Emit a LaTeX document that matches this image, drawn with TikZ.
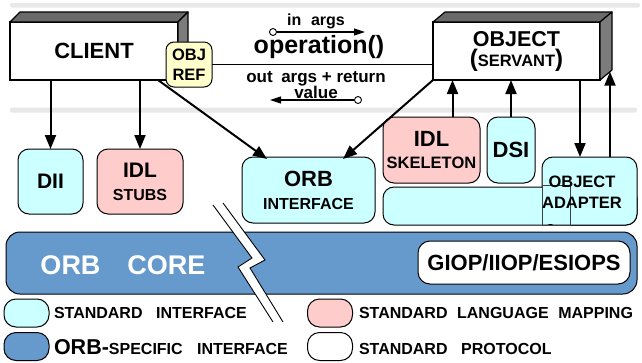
\documentclass[tikz,border=0pt]{standalone}
\usepackage{fontspec}
\setmainfont{Liberation Sans}
\usetikzlibrary{arrows.meta}
\definecolor{cyanfill}{HTML}{CCFFFF}
\definecolor{pinkfill}{HTML}{FFCCCC}
\definecolor{yellowfill}{HTML}{FFFFCC}
\definecolor{corefill}{HTML}{6699CC}
\definecolor{bandgray}{HTML}{E8E8E8}
\definecolor{topgray}{HTML}{6A6A6A}
\definecolor{sidegray}{HTML}{7C7C7C}
\newcommand{\fsz}[2]{\fontsize{#1}{#2}\selectfont}
\begin{document}
\begin{tikzpicture}[x=1pt,y=-1pt,
  box/.style={draw=black, line width=1pt, rounded corners=11pt, inner sep=0pt, outer sep=0pt, align=center, font=\bfseries},
  cube/.style={draw=black, line width=1.2pt, fill=white, inner sep=0pt, outer sep=0pt, align=center},
  conn/.style={line width=2pt, -{Triangle[length=14pt,width=11pt]}},
  sig/.style={line width=1.1pt, -{Triangle[length=11pt,width=7pt]}},
  swatch/.style={draw=black, line width=1pt, rounded corners=12pt, minimum width=45pt, minimum height=28pt, inner sep=0pt, outer sep=0pt},
  txt/.style={inner sep=0pt, outer sep=0pt, font=\bfseries},
  dot/.style={circle, draw=black, fill=white, line width=0.9pt, minimum size=7pt, inner sep=0pt}
]
\fill[white] (0,0) rectangle (642,362);
\useasboundingbox (0,0) rectangle (642,362);

% separator bands
\fill[bandgray, rounded corners=2pt] (10,3) rectangle (640,7.5);
\fill[bandgray, rounded corners=2pt] (10,107.5) rectangle (637,112.5);

% CLIENT
\node[cube, minimum width=168pt, minimum height=58pt, font=\bfseries\fsz{22}{24}] (client) at (94,51) {CLIENT};
\filldraw[fill=topgray, line width=1.2pt, line join=round] (client.north west) -- ++(10,-10) -- ++(168,0) -- (client.north east) -- cycle;
\filldraw[fill=sidegray, line width=1.2pt, line join=round] (client.north east) -- ++(10,-10) -- ++(0,58) -- (client.south east) -- cycle;

% OBJECT
\node[cube, minimum width=167pt, minimum height=58pt, font=\bfseries\fsz{21.5}{20}] (object) at (516.5,51) {OBJECT\\{\fsz{24}{20}(}{\fsz{16.5}{20}SERVANT}{\fsz{24}{20})}};
\filldraw[fill=topgray, line width=1.2pt, line join=round] (object.north west) -- ++(12,-10) -- ++(167,0) -- (object.north east) -- cycle;
\filldraw[fill=sidegray, line width=1.2pt, line join=round] (object.north east) -- ++(12,-10) -- ++(0,58) -- (object.south east) -- cycle;
\coordinate (objface) at (610,71.7);

% OBJ REF and operation line
\node[box, fill=yellowfill, rounded corners=8pt, minimum width=46pt, minimum height=45pt, font=\bfseries\fsz{16.5}{20}] (objref) at (189,64.5) {OBJ\\REF};
\draw[line width=0.9pt] (objref.east) -- (object.west |- objref.east);

\node[txt, font=\bfseries\fsz{16}{18}, anchor=base] (inargs) at (316,25) {in\hspace{.6em}args};
\node[txt, font=\bfseries\fsz{25}{28}, anchor=base] (op) at (319,53) {operation()};
\node[txt, font=\bfseries\fsz{17}{18}, anchor=base] (outargs) at (316,82) {out\hspace{.5em}args + return};
\node[txt, font=\bfseries\fsz{17}{18}, anchor=base] (value) at (316,98) {value};
\node[dot] (inS) at (273,32) {};
\coordinate (inE) at (365,32);
\draw[sig] (inS) -- (inE);
\node[dot] (outS) at (358,100) {};
\coordinate (outE) at (270,100);
\draw[sig] (outS) -- (outE);

% client side boxes
\node[box, fill=cyanfill, minimum width=65pt, minimum height=65pt, font=\bfseries\fsz{21}{23}] (dii) at (50.5,181.5) {DII};
\node[box, fill=pinkfill, minimum width=86pt, minimum height=65pt, font=\bfseries\fsz{16}{23}] (stubs) at (140,181.5) {{\fsz{21}{23}IDL}\\STUBS};
\node[box, fill=cyanfill, minimum width=133pt, minimum height=66pt, font=\bfseries\fsz{16}{23}] (orbif) at (308.5,190) {{\fsz{22}{23}ORB}\\INTERFACE};

% server side boxes
\node[box, fill=pinkfill, minimum width=97pt, minimum height=66pt, font=\bfseries\fsz{16.5}{22}] (skel) at (431.5,150) {{\fsz{22}{22}IDL}\\SKELETON};
\node[box, fill=cyanfill, minimum width=48pt, minimum height=66pt, font=\bfseries\fsz{22}{24}] (dsi) at (511,150) {DSI};
\node[box, fill=cyanfill, minimum width=254pt, minimum height=38pt] (oabar) at (510,206) {};
\node[box, fill=cyanfill, minimum width=95pt, minimum height=68pt] (oa) at (589.5,191) {};
\fill[cyanfill] (541,188) rectangle (600,223.5);
\draw[line width=0.7pt, draw=black!75] (542,185) rectangle (570,225);
\node[txt, align=center, font=\bfseries\fsz{16.5}{21}] (oatext) at (582,192) {OBJECT\\ADAPTER};

% connectors
\draw[conn] (dii.north |- client.south) -- (dii.north);
\draw[conn] (stubs.north |- client.south) -- (stubs.north);
\draw[conn] ([xshift=-20pt]client.south east) -- ([xshift=25pt,yshift=-2pt]orbif.north west);
\draw[conn] (object.south west) -- ([xshift=-32pt,yshift=-2pt]orbif.north east);
\draw[conn] ([xshift=21pt]skel.north) -- ([xshift=21pt]skel.north |- object.south);
\draw[conn] (dsi.north) -- (dsi.north |- object.south);
\draw[conn] ([xshift=-9.5pt]oa.north |- object.south) -- ([xshift=-9.5pt]oa.north);
\draw[conn] ([xshift=20.5pt]oa.north) -- (objface);

% ORB core
\node[draw=black, line width=1pt, fill=corefill, rounded corners=14pt, minimum width=631pt, minimum height=62pt, inner sep=0pt, outer sep=0pt] (core) at (321.5,263) {};
\node[txt, text=white, font=\bfseries\fsz{27}{28}] (coretext) at (123,265) {ORB\hspace{1em}CORE};
\node[box, fill=white, rounded corners=12pt, minimum width=212pt, minimum height=43pt, font=\bfseries\fsz{22}{24}] (giop) at (524,262.5) {GIOP/IIOP/ESIOPS};

% break mark
\fill[white] (213,205) -- (252,258) -- (238,267) -- (273,322) -- (283,322) -- (250,268) -- (265,260) -- (223,203) -- cycle;
\draw[line width=0.9pt, line join=miter] (213,205) -- (252,258) -- (238,267) -- (273,322);
\draw[line width=0.9pt, line join=miter] (223,203) -- (265,260) -- (250,268) -- (283,322);

% legend
\node[swatch, fill=cyanfill] (lg1) at (26.5,313) {};
\node[txt, font=\bfseries\fsz{16}{18}, anchor=base west] (lg1t) at (54,318.5) {STANDARD\hspace{.85em}INTERFACE};
\node[swatch, fill=corefill] (lg2) at (26.5,346.5) {};
\node[txt, font=\bfseries\fsz{16}{18}, anchor=base west] (lg2t) at (54,354.5) {{\fsz{21.5}{22}ORB-}SPECIFIC\hspace{.9em}INTERFACE};
\node[swatch, fill=pinkfill] (lg3) at (330,313) {};
\node[txt, font=\bfseries\fsz{16}{18}, anchor=base west] (lg3t) at (359,318.5) {STANDARD\hspace{.6em}LANGUAGE\hspace{.6em}MAPPING};
\node[swatch, fill=white] (lg4) at (330,346.5) {};
\node[txt, font=\bfseries\fsz{16}{18}, anchor=base west] (lg4t) at (359,354.5) {STANDARD\hspace{.85em}PROTOCOL};
\end{tikzpicture}
\end{document}
